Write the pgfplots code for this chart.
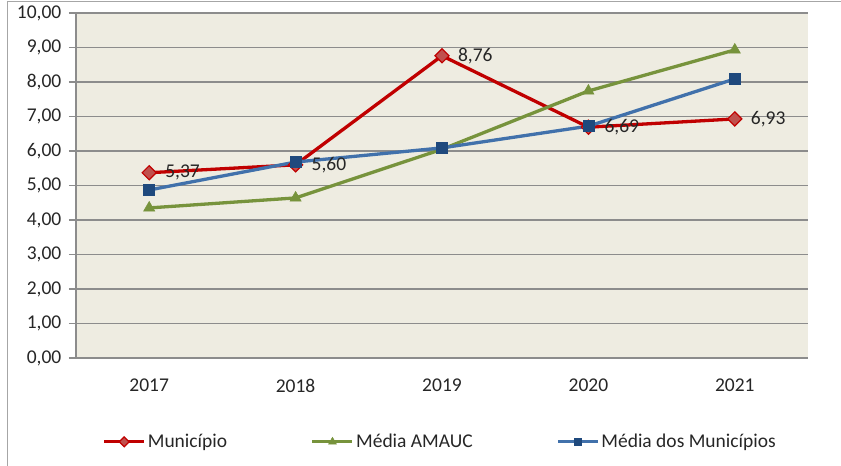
\documentclass[border=0pt]{standalone}
\usepackage{pgfplots}
\pgfplotsset{compat=1.18}
\usepackage{fontspec}
\setmainfont{Carlito}
\definecolor{redline}{HTML}{C00000}
\definecolor{redfill}{HTML}{C0504D}
\definecolor{greenline}{HTML}{77933C}
\definecolor{blueline}{HTML}{4171AB}
\definecolor{bluefill}{HTML}{1F497D}
\definecolor{bgcol}{HTML}{EEECE1}
\definecolor{gridgray}{HTML}{8C8C8C}
\definecolor{txt}{HTML}{262626}
\newcommand{\fs}{\fontsize{19.5bp}{22bp}\selectfont}
\begin{document}
\fs
\begin{tikzpicture}
\useasboundingbox (-76bp,-108bp) rectangle (765bp,358bp);
\draw[black!35, line width=1bp] (-68bp,-108bp) -- (-68bp,356bp) -- (765bp,356bp);
\begin{axis}[
  at={(0,0)}, anchor=south west,
  scale only axis, width=732bp, height=345bp,
  xmin=-0.5, xmax=4.5, ymin=0, ymax=10,
  xtick={0,1,2,3,4}, xticklabels={2017,2018,2019,2020,2021},
  ytick={0,1,...,10},
  ymajorgrids, grid style={color=gridgray, line width=1.2bp},
  axis background/.style={fill=bgcol},
  axis x line*=bottom, axis y line*=left,
  axis line style={-, color=gridgray, line width=1.2bp},
  tick align=outside, major tick length=7bp,
  ytick style={color=gridgray, line width=1.2bp},
  xtick style={draw=none},
  tick label style={color=txt, font=\fs},
  xticklabel style={yshift=-7bp},
  yticklabel style={xshift=-1bp},
  /pgf/number format/fixed, /pgf/number format/fixed zerofill,
  /pgf/number format/precision=2, /pgf/number format/use comma,
  /pgf/number format/assume math mode=true,
  legend columns=3,
  legend style={at={(0.036,-0.243)}, anchor=west, draw=none, fill=none,
    font=\fs, text=txt, inner sep=0pt,
    /tikz/every even column/.append style={column sep=2bp}},
  legend image code/.code={\draw[mark repeat=2, mark phase=2, every mark/.append style={scale=0.7}] plot coordinates {(0bp,0bp) (20bp,0bp) (40bp,0bp)};},
  clip=false,
]
\addplot[color=redline, line width=3.3bp, mark=square*, mark size=5bp,
  mark options={rotate=45, fill=redfill, draw=redline, line width=1.2bp},
  nodes near coords, nodes near coords style={anchor=west, xshift=9bp, yshift=0bp, color=txt, font=\fs}]
  coordinates {(0,5.37) (1,5.60) (2,8.76) (3,6.69) (4,6.93)};
\addlegendentry{\makebox[159bp][l]{Município}}
\addplot[color=greenline, line width=3.3bp, mark=triangle*, mark size=6.5bp,
  mark options={fill=greenline, draw=greenline, line width=0.5bp}]
  coordinates {(0,4.35) (1,4.64) (2,6.05) (3,7.74) (4,8.93)};
\addlegendentry{\makebox[196bp][l]{Média AMAUC}}
\addplot[color=blueline, line width=3.3bp, mark=square*, mark size=5.5bp,
  mark options={fill=bluefill, draw=bluefill, line width=0.5bp}]
  coordinates {(0,4.87) (1,5.68) (2,6.09) (3,6.72) (4,8.09)};
\addlegendentry{Média dos Municípios}
\end{axis}
\end{tikzpicture}
\end{document}
